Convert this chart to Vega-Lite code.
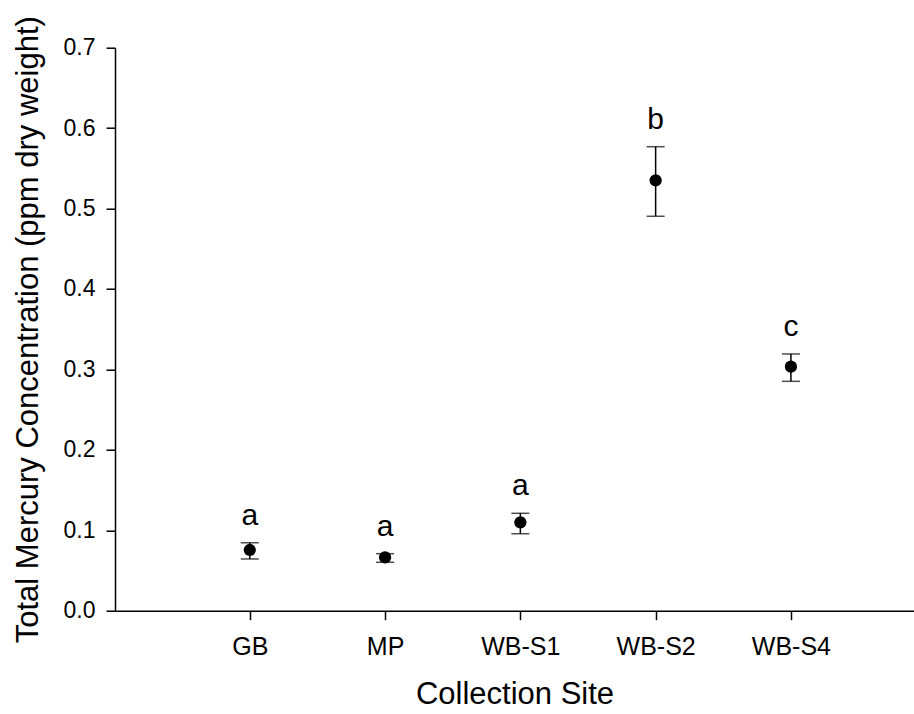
{
  "$schema": "https://vega.github.io/schema/vega-lite/v6.json",
  "autosize": "none",
  "width": 799,
  "height": 563,
  "padding": {"left": 115, "top": 47.7, "right": 0, "bottom": 103.3},
  "background": "white",
  "config": {
    "view": {"stroke": null},
    "font": "Liberation Sans",
    "axis": {
      "grid": false,
      "domainColor": "black",
      "domainWidth": 1.5,
      "tickColor": "black",
      "tickWidth": 1.5,
      "tickSize": 9,
      "labelColor": "black",
      "titleColor": "black",
      "labelFont": "Liberation Sans",
      "titleFont": "Liberation Sans",
      "titleFontWeight": "normal"
    }
  },
  "data": {
    "values": [
      {"site": "GB", "mean": 0.0755, "lower": 0.0643, "upper": 0.0845, "group": "a"},
      {"site": "MP", "mean": 0.0664, "lower": 0.0602, "upper": 0.0709, "group": "a"},
      {"site": "WB-S1", "mean": 0.1099, "lower": 0.0957, "upper": 0.1211, "group": "a"},
      {"site": "WB-S2", "mean": 0.5351, "lower": 0.4904, "upper": 0.5769, "group": "b"},
      {"site": "WB-S4", "mean": 0.3034, "lower": 0.2852, "upper": 0.3192, "group": "c"}
    ]
  },
  "encoding": {
    "x": {
      "field": "site",
      "type": "nominal",
      "sort": null,
      "scale": {"type": "point", "padding": 0.953, "align": 0.5227},
      "axis": {
        "title": "Collection Site",
        "labelAngle": 0,
        "labelFontSize": 25,
        "labelPadding": 15,
        "titleFontSize": 31,
        "titleBaseline": "alphabetic",
        "titleY": 92.5
      }
    }
  },
  "layer": [
    {
      "mark": {"type": "rule", "color": "black", "strokeWidth": 1.5},
      "encoding": {
        "y": {
          "field": "lower",
          "type": "quantitative",
          "scale": {"domain": [0, 0.7], "nice": false, "zero": true},
          "axis": {
            "title": "Total Mercury Concentration (ppm dry weight)",
            "values": [0, 0.1, 0.2, 0.3, 0.4, 0.5, 0.6, 0.7],
            "format": ".1f",
            "labelFontSize": 23,
            "labelPadding": 11,
            "titleFontSize": 31,
            "titleBaseline": "alphabetic",
            "titleX": -78
          }
        },
        "y2": {"field": "upper"}
      }
    },
    {
      "mark": {"type": "tick", "color": "black", "thickness": 1.5, "size": 18, "orient": "horizontal"},
      "encoding": {"y": {"field": "upper", "type": "quantitative"}}
    },
    {
      "mark": {"type": "tick", "color": "black", "thickness": 1.5, "size": 18, "orient": "horizontal"},
      "encoding": {"y": {"field": "lower", "type": "quantitative"}}
    },
    {
      "mark": {"type": "circle", "color": "black", "opacity": 1, "size": 150},
      "encoding": {"y": {"field": "mean", "type": "quantitative"}}
    },
    {
      "mark": {"type": "text", "color": "black", "fontSize": 30, "baseline": "alphabetic", "dy": -18},
      "encoding": {
        "y": {"field": "upper", "type": "quantitative"},
        "text": {"field": "group"}
      }
    }
  ]
}
